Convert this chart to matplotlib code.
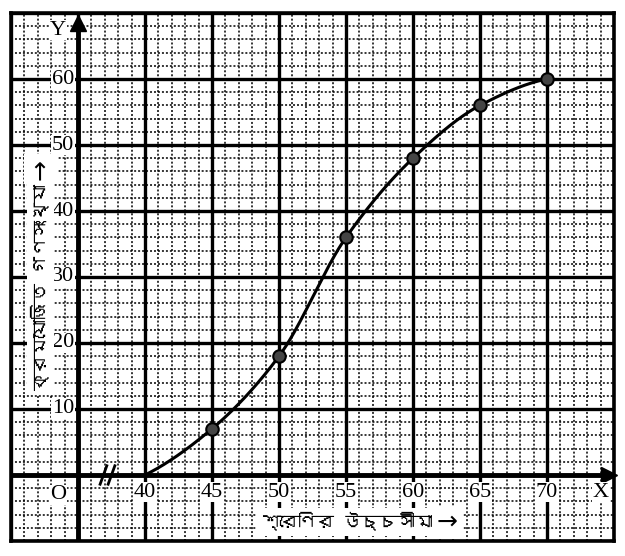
import matplotlib
matplotlib.use("Agg")
import matplotlib.pyplot as plt
import numpy as np
from matplotlib import font_manager
from matplotlib.ft2font import FT2Font

# ogive data
upper_limits = [40, 45, 50, 55, 60, 65, 70]
cum_freq = [0, 7, 18, 36, 48, 56, 60]
x_ticks = [40, 45, 50, 55, 60, 65, 70]
y_ticks = [10, 20, 30, 40, 50, 60]
x_title = "শ্রেণির উচ্চসীমা"
y_title = "ক্রমযোজিত গণসংখ্যা"


def find_bengali():
    for f in font_manager.fontManager.ttflist:
        try:
            if 0x0995 in FT2Font(f.fname).get_charmap():
                return f.name
        except Exception:
            pass
    return None


def pchip(x, y, xs):
    x = np.asarray(x, float)
    y = np.asarray(y, float)
    h = np.diff(x)
    d = np.diff(y) / h
    m = np.zeros_like(y)
    for k in range(1, len(x) - 1):
        if d[k - 1] * d[k] > 0:
            w1 = 2 * h[k] + h[k - 1]
            w2 = h[k] + 2 * h[k - 1]
            m[k] = (w1 + w2) / (w1 / d[k - 1] + w2 / d[k])
    m[0] = ((2 * h[0] + h[1]) * d[0] - h[0] * d[1]) / (h[0] + h[1])
    m[-1] = ((2 * h[-1] + h[-2]) * d[-1] - h[-1] * d[-2]) / (h[-1] + h[-2])
    idx = np.clip(np.searchsorted(x, xs) - 1, 0, len(x) - 2)
    t = (xs - x[idx]) / h[idx]
    h00 = 2 * t**3 - 3 * t**2 + 1
    h10 = t**3 - 2 * t**2 + t
    h01 = -2 * t**3 + 3 * t**2
    h11 = t**3 - t**2
    return h00 * y[idx] + h10 * h[idx] * m[idx] + h01 * y[idx + 1] + h11 * h[idx] * m[idx + 1]


beng = find_bengali()
bfam = [beng, "DejaVu Sans"] if beng else ["DejaVu Sans"]
serif = "Liberation Serif"

fig = plt.figure(figsize=(6.25, 5.56), dpi=100)
ax = fig.add_axes([0.0176, 0.027, 0.9648, 0.9496])
ax.set_xlim(30, 75)
ax.set_ylim(-10, 70)

# graph paper
ax.set_xticks(np.arange(30, 76, 5))
ax.set_yticks(np.arange(-10, 71, 10))
ax.set_xticks(np.arange(30, 76, 1), minor=True)
ax.set_yticks(np.arange(-10, 71, 2), minor=True)
ax.grid(which="major", color="black", lw=2.4)
ax.grid(which="minor", color="black", lw=1.1, ls=(0, (1.3, 1.3)))
ax.tick_params(which="both", length=0, labelbottom=False, labelleft=False)
ax.set_axisbelow(True)
for s in ax.spines.values():
    s.set_linewidth(2.6)

# axes with arrows
ax.plot([30, 74.6], [0, 0], color="black", lw=3.5)
ax.plot([35, 35], [-10, 68.5], color="black", lw=3.5)
ax.plot(74.6, 0, marker=">", ms=11, color="black", clip_on=False)
ax.plot(35, 68.5, marker="^", ms=11, color="black", clip_on=False)
for bx in [36.9, 37.5]:
    ax.plot([bx - 0.25, bx + 0.25], [-1.4, 1.4], color="black", lw=2)

# ogive
xs = np.linspace(upper_limits[0], upper_limits[-1], 300)
ax.plot(xs, pchip(upper_limits, cum_freq, xs), color="black", lw=2.2)
ax.plot(upper_limits[1:], cum_freq[1:], "o", ms=9, mfc="#444444", mec="black", mew=1.5)

box = dict(facecolor="white", edgecolor="none", pad=0.5)
for v in y_ticks:
    ax.text(34.7, v, str(v), ha="right", va="center", fontsize=16, family=serif, bbox=box)
for v in x_ticks:
    ax.text(v, -2.6, str(v), ha="center", va="center", fontsize=16, family=serif, bbox=box)
ax.text(33.5, -3, "O", ha="center", va="center", fontsize=16, family=serif, bbox=box)
ax.text(33.5, 67.4, "Y", ha="center", va="center", fontsize=16, family=serif, bbox=box)
ax.text(74, -2.6, "X", ha="center", va="center", fontsize=16, family=serif, bbox=box)

tbox = dict(facecolor="white", edgecolor="none", pad=3)
tx = ax.text(48.7, -7.1, x_title, ha="left", va="center", fontsize=13, family=bfam, bbox=tbox)
ty = ax.text(32.2, 12.8, y_title, ha="center", va="bottom", rotation=90, fontsize=13,
             family=bfam, bbox=tbox)

# arrows after the titles, placed from the measured text size
fig.canvas.draw()
inv = ax.transData.inverted()
bx = tx.get_window_extent()
x_end = inv.transform((bx.x1, bx.y0))[0]
ax.text(x_end + 0.3, -7.1, "→", ha="left", va="center", fontsize=18,
        family="DejaVu Sans", bbox=tbox)
by = ty.get_window_extent()
y_end = inv.transform((by.x0, by.y1))[1]
ax.text(32.2, y_end + 0.6, "→", ha="center", va="bottom", rotation=90, fontsize=18,
        family="DejaVu Sans", bbox=tbox)

fig.savefig("out.png", dpi=100)
